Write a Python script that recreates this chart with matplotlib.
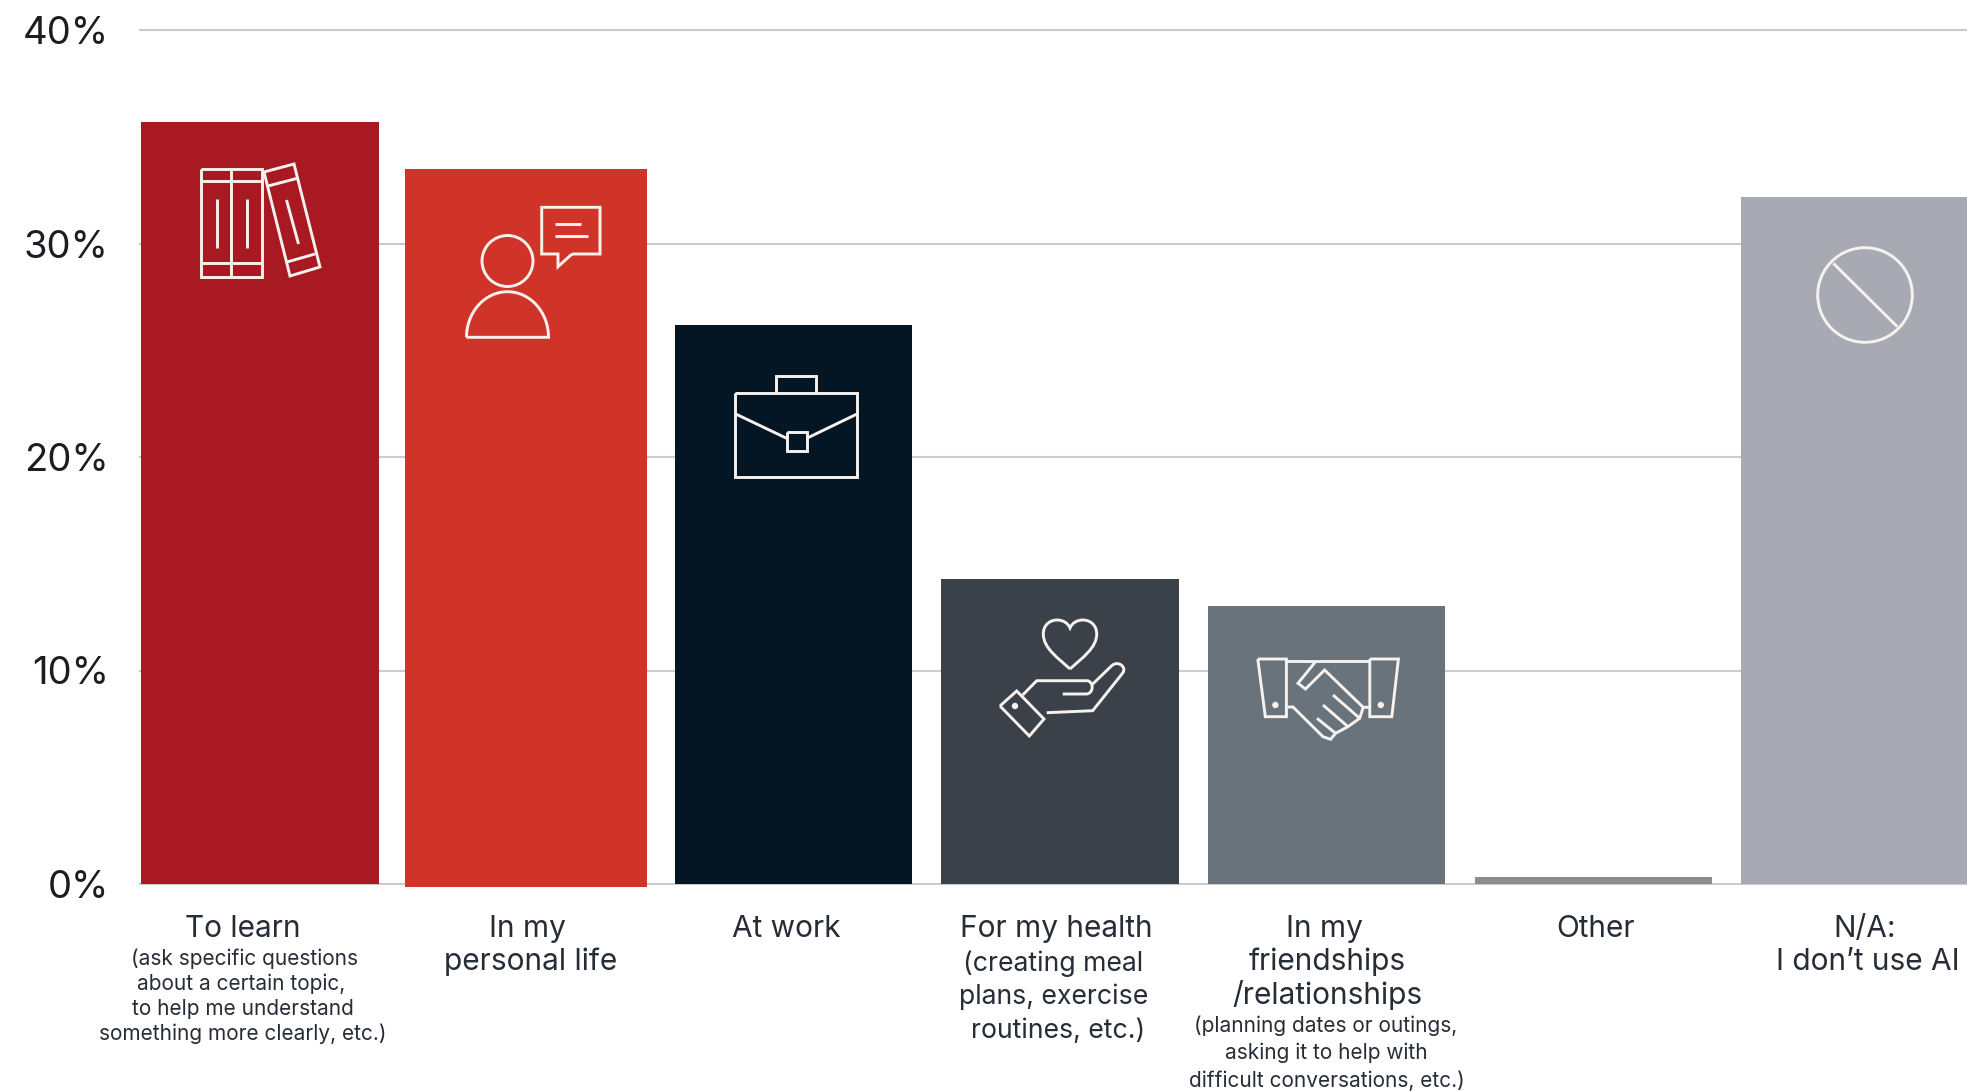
import numpy as np
import matplotlib
matplotlib.use("Agg")
import matplotlib.pyplot as plt
from matplotlib.patches import Circle, PathPatch
from matplotlib.path import Path

plt.rcParams['font.family'] = ['Inter', 'DejaVu Sans']

W, H = 1967, 1091

# Survey results, percent of respondents
categories = ["To learn", "In my personal life", "At work", "For my health",
              "In my friendships/relationships", "Other", "N/A: I don't use AI"]
values = [35.7, 33.5, 26.2, 14.3, 13.0, 0.35, 32.2]
y_ticks = [0, 10, 20, 30, 40]
y_tick_labels = ["0%", "10%", "20%", "30%", "40%"]

# Bar geometry, in pixels along the x axis
bar_lefts = [141, 405, 675, 941, 1208, 1475, 1741]
bar_widths = [238, 242, 237, 238, 237, 237, 237]
bar_bottoms = [0, -0.12, 0, 0, 0, 0, 0]
bar_colors = ["#A81922", "#D03327", "#041524", "#3A4148", "#69737B", "#8C8D8F", "#A7AAB2"]

# Category captions: (text, centre x, baseline y, font size)
MAIN, MID, SUB = 21.5, 19.2, 15.0
captions = [
    ("To learn", 243, 937, MAIN),
    ("(ask specific questions", 244, 965, SUB),
    ("about a certain topic,", 241, 990, SUB),
    ("to help me understand", 243, 1015, SUB),
    ("something more clearly, etc.)", 243, 1040, SUB),
    ("In my", 527, 937, MAIN),
    ("personal life", 531, 970, MAIN),
    ("At work", 786, 937, MAIN),
    ("For my health", 1056, 937, MAIN),
    ("(creating meal", 1053, 971, MID),
    ("plans, exercise", 1054, 1004, MID),
    ("routines, etc.)", 1058, 1038, MID),
    ("In my", 1324, 937, MAIN),
    ("friendships", 1327, 970, MAIN),
    ("/relationships", 1327, 1004, MAIN),
    ("(planning dates or outings,", 1326, 1032, SUB),
    ("asking it to help with", 1326, 1059, SUB),
    ("difficult conversations, etc.)", 1327, 1087, SUB),
    ("Other", 1596, 937, MAIN),
    ("N/A:", 1865, 937, MAIN),
    ("I don\u2019t use AI", 1868, 970, MAIN),
]

fig = plt.figure(figsize=(W / 100, H / 100), dpi=100, facecolor="white")

# Chart axes: x runs in pixels from the left end of the gridlines, y in percent
BASE, TOP = 884, 30
ax = fig.add_axes([140 / W, 1 - BASE / H, (W - 140) / W, (BASE - TOP) / H])
ax.set_xlim(140, W)
ax.set_ylim(0, 40)
ax.set_axisbelow(True)
ax.yaxis.grid(True, color="#CBCBCB", lw=1.5, clip_on=False)
ax.xaxis.set_visible(False)
for spine in ax.spines.values():
    spine.set_visible(False)
ax.set_yticks(y_ticks, y_tick_labels)
ax.tick_params(axis="y", length=0, pad=22.5, labelsize=27.5, labelcolor="#1A1D22")
for gl in ax.yaxis.get_gridlines():
    gl.set_clip_on(False)

heights = [v - b for v, b in zip(values, bar_bottoms)]
ax.bar(bar_lefts, heights, width=bar_widths, bottom=bar_bottoms, align="edge",
       color=bar_colors, linewidth=0, clip_on=False, zorder=2)

# Overlay in pixel space for the captions and the white line icons
ov = fig.add_axes([0, 0, 1, 1], facecolor="none")
ov.set_xlim(0, W)
ov.set_ylim(H, 0)
ov.axis("off")

for text, x, y, size in captions:
    ov.text(x, y, text, ha="center", va="baseline", fontsize=size, color="#262D36")

LW = 2.1
ICON = "#F7F2EE"


def stroke(*pts, closed=False, color=ICON, lw=LW):
    xs, ys = zip(*pts)
    if closed:
        xs, ys = xs + xs[:1], ys + ys[:1]
    ov.plot(xs, ys, color=color, lw=lw, solid_joinstyle="miter", solid_capstyle="butt", zorder=5)


def box(x0, y0, x1, y1, **kw):
    stroke((x0, y0), (x1, y0), (x1, y1), (x0, y1), closed=True, **kw)


def curve(verts, codes, color=ICON, lw=LW):
    ov.add_patch(PathPatch(Path(verts, codes), fill=False, ec=color, lw=lw, zorder=5))


def ring(x, y, r, color=ICON, lw=LW):
    ov.add_patch(Circle((x, y), r, fill=False, ec=color, lw=lw, zorder=5))


def dot(x, y, r=3.2, color=ICON):
    ov.add_patch(Circle((x, y), r, fc=color, ec="none", zorder=5))


# Books
box(201, 168.5, 262, 276.5)
stroke((231, 168.5), (231, 276.5))
stroke((201, 181), (262, 181))
stroke((201, 263), (262, 263))
stroke((216.5, 199), (216.5, 248))
stroke((246.5, 199), (246.5, 248))
stroke((264, 172), (294, 164), (320, 267), (290, 276), closed=True)
stroke((268, 186), (298.5, 178))
stroke((287, 262), (315, 254))
stroke((286.5, 200), (298.5, 244))

# Person with speech bubble
ring(507.5, 261, 25.5)
k = 0.5523
cx, base, rx, ry = 507.5, 337.3, 41, 45.6
curve([(cx - rx, base), (cx - rx, base - k * ry), (cx - k * rx, base - ry), (cx, base - ry),
       (cx + k * rx, base - ry), (cx + rx, base - k * ry), (cx + rx, base), (cx - rx, base)],
      [Path.MOVETO, Path.CURVE4, Path.CURVE4, Path.CURVE4, Path.CURVE4, Path.CURVE4, Path.CURVE4, Path.LINETO])
stroke((572, 254), (558, 266.7), (558, 254), (541.7, 254), (541.7, 207.3), (600, 207.3), (600, 254), closed=True)
stroke((555, 224), (581, 224))
stroke((555, 236), (588, 236))

# Briefcase
box(735, 393.3, 857.3, 476.7)
stroke((776, 393.3), (776, 375.7), (816, 375.7), (816, 393.3))
stroke((735.7, 414), (786.7, 438.3))
stroke((857, 414), (806.7, 438.3))
box(787.3, 431.7, 806.7, 450.7)

# Heart held in a hand
curve([(1070, 669), (1058, 658), (1043.3, 648), (1043.3, 634),
       (1043.3, 624), (1051, 620), (1057, 620), (1063, 620), (1068, 623), (1070, 628),
       (1072, 623), (1077, 620), (1083, 620), (1089, 620), (1096.7, 624), (1096.7, 634),
       (1096.7, 648), (1082, 658), (1070, 669)],
      [Path.MOVETO] + [Path.CURVE4] * 18)
stroke((1000, 706), (1016.7, 691), (1044, 719), (1029.3, 736), closed=True)
dot(1015, 706)
curve([(1022.7, 695), (1036.7, 680.7), (1086.7, 680.7), (1094, 681), (1094, 693), (1086.7, 694), (1062.7, 694)],
      [Path.MOVETO, Path.LINETO, Path.LINETO, Path.CURVE4, Path.CURVE4, Path.CURVE4, Path.LINETO])
curve([(1091.7, 685), (1111.7, 665.7), (1118, 660), (1127, 667), (1122.7, 673), (1092.7, 710.7), (1046.7, 712.7)],
      [Path.MOVETO, Path.LINETO, Path.CURVE4, Path.CURVE4, Path.CURVE4, Path.LINETO, Path.LINETO])

# Handshake
stroke((1257.8, 659), (1286.4, 659), (1286.4, 716.7), (1265.3, 716.7), closed=True)
stroke((1369.8, 659), (1398.4, 659), (1391.8, 716.7), (1369.8, 716.7), closed=True)
stroke((1286.4, 661), (1369.8, 661))
dot(1275.4, 705)
dot(1380.8, 705)
stroke((1315.5, 661.7), (1298, 683.3), (1305.5, 689), (1324.6, 670), (1363.2, 707.3), (1369.8, 707.3))
stroke((1286.4, 707), (1293, 707), (1323, 736.7), (1330.6, 739.3), (1335.6, 733.3),
       (1348, 726.7), (1359.7, 718.3), (1363.2, 707.3))
stroke((1333, 695), (1359.7, 718.3))
stroke((1323, 705), (1348, 726.7))
stroke((1317, 718.3), (1335.6, 733.3))

# Prohibition sign
ring(1865, 295, 47.3)
stroke((1833.3, 263.3), (1897.3, 326.7))

fig.savefig("out.png", dpi=100, facecolor="white")
